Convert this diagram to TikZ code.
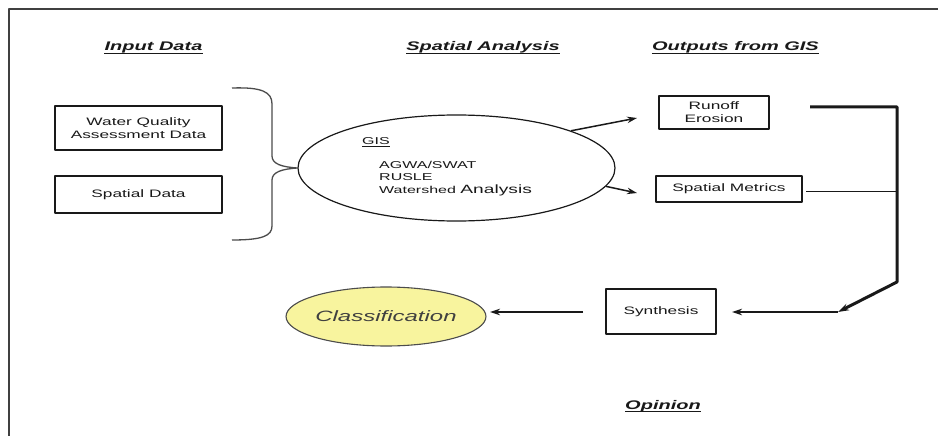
\documentclass[tikz,border=0pt]{standalone}
\usepackage{fontspec}
\setmainfont{Liberation Sans}[FakeStretch=1.6]
\usetikzlibrary{arrows.meta,shapes.geometric,calc}
\definecolor{clsfill}{RGB}{248,244,158}
\definecolor{ink}{RGB}{25,25,25}
\begin{document}
\begin{tikzpicture}[x=1pt,y=-1pt,line join=round,
  box/.style={draw=ink,line width=1.2pt,fill=white,align=center,text=ink,
    font=\fontsize{10.8}{13}\selectfont,inner sep=0pt},
  hdr/.style={anchor=base,inner sep=0pt,text=ink,
    font=\bfseries\itshape\fontsize{12.5}{14}\selectfont},
  gistxt/.style={anchor=base west,inner sep=0pt,text=ink,font=\fontsize{10}{12}\selectfont},
  ln/.style={draw=ink,line width=1.5pt},
  thickln/.style={draw=ink,line width=3pt},
  tip/.style={-{Stealth[length=10pt,width=6.5pt]}}]
\useasboundingbox (0,0) rectangle (938,436);
\fill[white] (0,0) rectangle (938,436);
% frame
\draw[line width=1.4pt,black!75] (938,9) -- (9,9) -- (9,436);

% headers
\node[hdr] (h1) at (153.5,51) {Input Data};
\node[hdr] (h2) at (483,51) {Spatial Analysis};
\node[hdr] (h3) at (735.5,51) {Outputs from GIS};
\node[hdr] (h4) at (663,409) {Opinion};
\foreach \h in {h1,h2,h3,h4}
  \draw[line width=1.3pt,ink] ([yshift=-2.2pt]\h.base west) -- ([yshift=-2.2pt]\h.base east);

% input boxes
\node[box,minimum width=167pt,minimum height=44pt] (wq) at (138.5,128) {Water Quality\\Assessment Data};
\node[box,minimum width=167pt,minimum height=37pt] (sd) at (138.5,194.5) {Spatial Data};

% GIS ellipse
\node[ellipse,draw=ink,line width=1.2pt,minimum width=317pt,minimum height=106pt,inner sep=0pt] (gis) at (456.5,168) {};
\node[gistxt] (gt) at (362,144) {GIS};
\draw[line width=0.8pt,ink] ([yshift=-2pt]gt.base west) -- ([yshift=-2pt]gt.base east);
\node[gistxt] (g1) at (379,168) {AGWA/SWAT};
\node[gistxt] (g2) at (379,180) {RUSLE};
\node[gistxt] (g3) at (379,193) {Watershed {\fontsize{12}{14}\selectfont Analysis}};

% brace
\coordinate (bt) at (232,88);
\coordinate (bb) at (232,240);
\draw[line width=1.3pt,black!70] (bt) .. controls (262,87) and (272,92) .. (272,104)
  -- (272,156) .. controls (272,164) and (282,167) .. (gis.west)
  .. controls (282,169) and (272,172) .. (272,180)
  -- (272,226) .. controls (272,236) and (262,240) .. (bb);

% output boxes
\node[box,minimum width=110pt,minimum height=33pt] (ro) at (714,112.5) {Runoff\\Erosion};
\node[box,minimum width=146pt,minimum height=26pt] (sm) at (729,189) {Spatial Metrics};
\node[box,minimum width=110pt,minimum height=45pt] (syn) at (661,311.5) {Synthesis};

% classification
\node[ellipse,draw=black!70,line width=1.1pt,fill=clsfill,minimum width=168pt,minimum height=59pt,inner sep=0pt,
  text=black!75,font=\itshape\fontsize{15}{17}\selectfont] (cls) at (386,316.5) {Classification};

% arrows from GIS
\coordinate (a1) at (637,118);
\coordinate (a2) at (637,193);
\draw[ln,tip] (gis.18) -- (a1);
\draw[ln,tip] (gis.-7) -- (a2);

% thick connector
\coordinate (r1) at (810,107);
\coordinate (c1) at (897,107);
\coordinate (c2) at (897,282);
\coordinate (c3) at (838,312);
\coordinate (s1) at (732,312);
\coordinate (m1) at (806,191);
\coordinate (m2) at (897,191);
\draw[line width=1pt,ink] (m1) -- (m2);
\draw[thickln,-{Stealth[length=11pt,width=7pt]}] (r1) -- (c1) -- (c2) -- (c3);
\draw[ln,tip] (c3) -- (s1);

% synthesis to classification
\coordinate (q1) at (583,312);
\coordinate (q2) at (490,312);
\draw[ln,tip] (q1) -- (q2);
\end{tikzpicture}
\end{document}
